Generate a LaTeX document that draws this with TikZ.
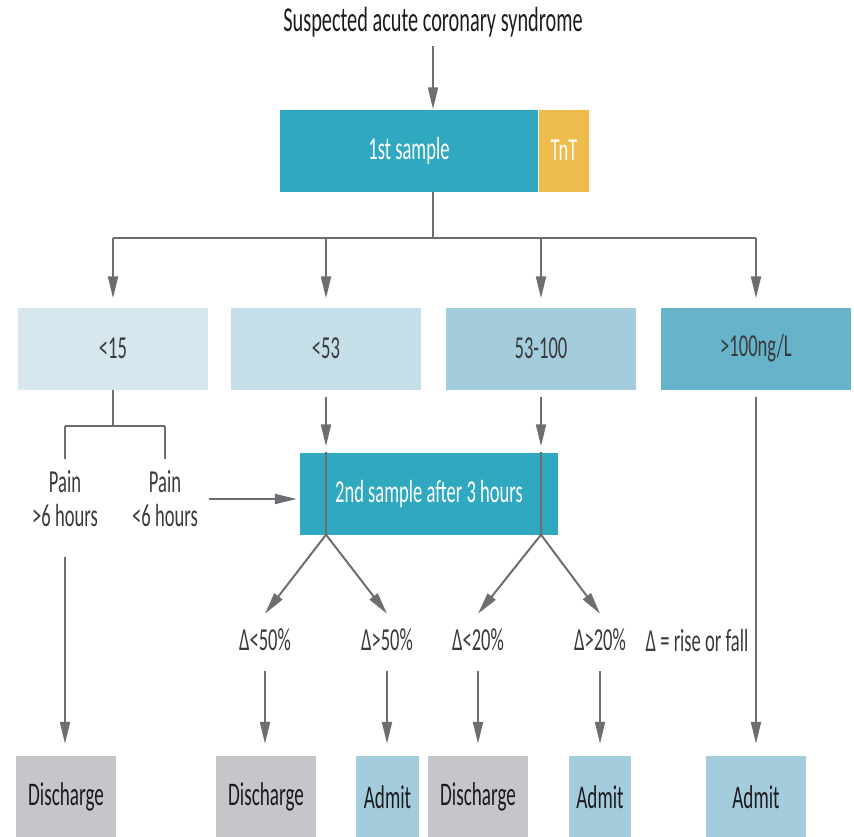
\documentclass[tikz,border=0pt]{standalone}
\usepackage{fontspec}
\setmainfont{Carlito}[FakeStretch=0.58]
\usetikzlibrary{arrows.meta,positioning,calc}
\definecolor{sampleteal}{HTML}{2FA8C0}
\definecolor{tntyellow}{HTML}{EDBC4B}
\definecolor{lvlone}{HTML}{D6E7EE}
\definecolor{lvltwo}{HTML}{C5DFE8}
\definecolor{lvlthree}{HTML}{A3CCDC}
\definecolor{lvlfour}{HTML}{66B3CA}
\definecolor{dischgray}{HTML}{C6C5CA}
\definecolor{admitblue}{HTML}{A3CCDC}
\definecolor{linegray}{HTML}{6D6E71}
\definecolor{txtgray}{HTML}{3A3A3C}
\definecolor{txtblack}{HTML}{1E1B1C}

\begin{document}
\begin{tikzpicture}[x=1pt,y=-1pt, font=\fontsize{32}{34}\selectfont, text=txtgray,
    box/.style={rectangle, inner sep=0pt, minimum height=82pt},
    endbox/.style={box, text=txtblack, font=\fontsize{33}{34}\selectfont},
    lab/.style={inner sep=0pt, align=center},
    ln/.style={draw=linegray, line width=2pt},
    arr/.style={ln, -{Triangle[width=10pt,length=22pt]}}]
    \useasboundingbox (0,0) rectangle (854,836);
        \coordinate (bus) at (433,238);
        \coordinate (fork) at (113,426);
        \node[lab, text=txtblack, font=\fontsize{35}{36}\selectfont] (title) at (433,22) {Suspected acute coronary syndrome};
        \node[box, fill=sampleteal, text=white, minimum width=258pt] (s1) at (409,150.5) {1st sample};
        \node[box, fill=tntyellow, text=white, minimum width=50pt] (tnt) at (564,150.5) {TnT};

        \node[box, fill=lvlone, minimum width=190pt] (r1) at (113,348.5) {<15};
        \node[box, fill=lvltwo, minimum width=190pt] (r2) at (326,348.5) {<53};
        \node[box, fill=lvlthree, minimum width=190pt] (r3) at (541,348.5) {53-100};
        \node[box, fill=lvlfour, minimum width=190pt] (r4) at (756,348.5) {>100ng/L};

        \node[lab] (p1) at (65,499) {Pain\\>6 hours};
        \node[lab] (p2) at (165,499) {Pain\\<6 hours};
        \node[box, fill=sampleteal, text=white, minimum width=258pt] (s2) at (429,493.5) {2nd sample after 3 hours};

        \node[lab] (d1) at (265,640) {Δ<50\%};
        \node[lab] (d2) at (387,640) {Δ>50\%};
        \node[lab] (d3) at (478,640) {Δ<20\%};
        \node[lab] (d4) at (600,640) {Δ>20\%};
        \node[lab] (key) at (697,640) {Δ = rise or fall};

        \node[endbox, fill=dischgray, minimum width=100pt] (b1) at (66,797) {Discharge};
        \node[endbox, fill=dischgray, minimum width=100pt] (b2) at (266,797) {Discharge};
        \node[endbox, fill=admitblue, minimum width=63pt] (b3) at (387.5,797) {Admit};
        \node[endbox, fill=dischgray, minimum width=100pt] (b4) at (478,797) {Discharge};
        \node[endbox, fill=admitblue, minimum width=62pt] (b5) at (600,797) {Admit};
        \node[endbox, fill=admitblue, minimum width=100pt] (b6) at (756,797) {Admit};

        % top part
        \draw[arr, shorten <=9pt] (title.south -| bus) -- (s1.north -| bus);
        \draw[ln] (s1.south -| bus) -- (bus);
        \draw[ln] (bus -| r1) -- (bus -| r4);
        \foreach \r in {r1,r2,r3,r4}
            \draw[arr, shorten >=9pt] (bus -| \r) -- (\r.north);

        % <15 branch
        \draw[ln] (r1.south) -- (fork);
        \draw[ln] (fork -| p1) -- (fork -| p2);
        \draw[ln] (fork -| p1) -- ++(0,33);
        \draw[ln] (fork -| p2) -- ++(0,33);
        \draw[arr, shorten <=11pt, shorten >=3pt] (p2.east) -- (p2.east -| s2.west);
        \draw[arr, shorten <=30pt, shorten >=12pt] (p1.south) -- (p1.south |- b1.north);

        % second sample
        \draw[arr, shorten <=7pt, shorten >=6pt] (r2.south) -- (r2.south |- s2.north);
        \draw[arr, shorten <=7pt, shorten >=6pt] (r3.south) -- (r3.south |- s2.north);
        \draw[ln] (s2.north -| r2) -- (s2.south -| r2);
        \draw[ln] (s2.north -| r3) -- (s2.south -| r3);
        \draw[arr] (s2.south -| r2) -- ([yshift=15pt]d1.north);
        \draw[arr] (s2.south -| r2) -- ([yshift=15pt]d2.north);
        \draw[arr] (s2.south -| r3) -- ([yshift=15pt]d3.north);
        \draw[arr] (s2.south -| r3) -- ([yshift=15pt]d4.north);

        % outcomes
        \draw[arr, shorten <=20pt, shorten >=12pt] (d1.south) -- (d1.south |- b2.north);
        \draw[arr, shorten <=20pt, shorten >=12pt] (d2.south) -- (d2.south |- b3.north);
        \draw[arr, shorten <=20pt, shorten >=12pt] (d3.south) -- (d3.south |- b4.north);
        \draw[arr, shorten <=20pt, shorten >=12pt] (d4.south) -- (d4.south |- b5.north);
        \draw[arr, shorten <=7pt, shorten >=12pt] (r4.south) -- (r4.south |- b6.north);
    \end{tikzpicture}
\end{document}
